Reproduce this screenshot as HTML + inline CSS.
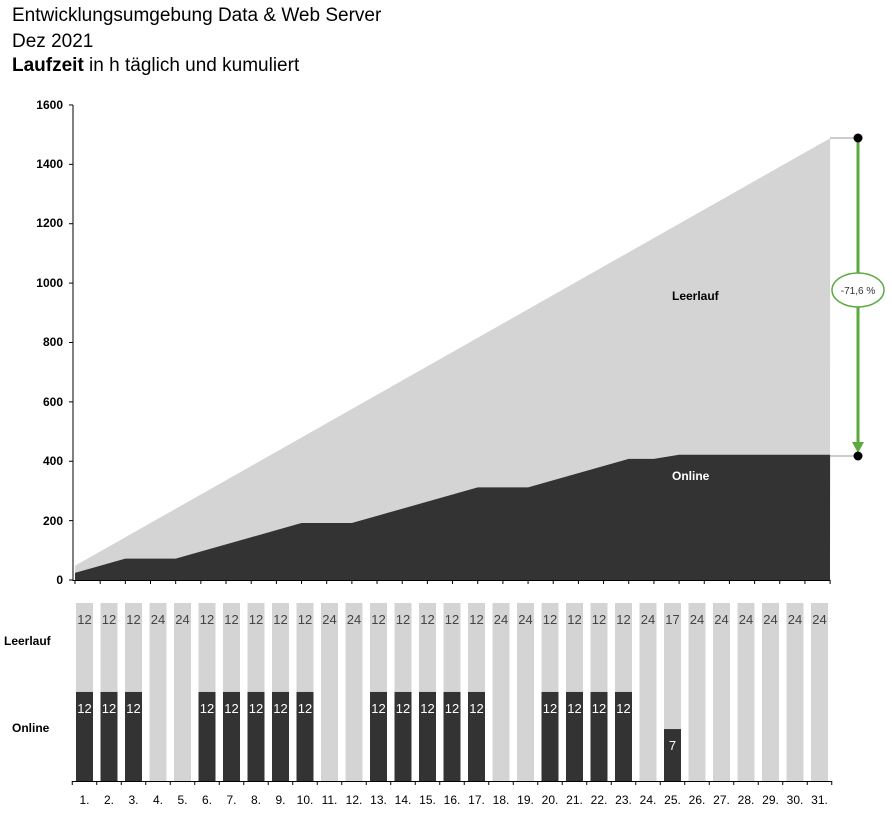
<!DOCTYPE html>
<html><head><meta charset="utf-8"><style>
body{margin:0;background:#fff;width:892px;height:814px;overflow:hidden;font-family:"Liberation Sans",Arial,sans-serif}
.t{position:absolute;left:12px;font-size:19px;color:#000;line-height:22px}
</style></head><body>
<div class="t" style="top:5px">Entwicklungsumgebung Data &amp; Web Server</div>
<div class="t" style="top:31px">Dez 2021</div>
<div class="t" style="top:55px"><b>Laufzeit</b> in h täglich und kumuliert</div>
<svg id="s" width="892" height="814" style="position:absolute;left:0;top:0" font-family="Liberation Sans,Arial,sans-serif">
<g id="g"></g>
<g font-size="12" font-weight="bold" text-anchor="end" fill="#000">
<text x="63" y="584">0</text><text x="63" y="525">200</text><text x="63" y="465">400</text><text x="63" y="406">600</text><text x="63" y="346">800</text><text x="63" y="287">1000</text><text x="63" y="227">1200</text><text x="63" y="168">1400</text><text x="63" y="109">1600</text>
</g>
<g font-size="12" font-weight="bold" fill="#000">
<text x="672" y="300" fill="#000">Leerlauf</text>
<text x="672" y="480" fill="#fff">Online</text>
<text x="4" y="645">Leerlauf</text>
<text x="12" y="732">Online</text>
</g>
<g id="labs"></g>
<g font-size="12" text-anchor="middle" fill="#000">
<text x="84.5" y="804">1.</text><text x="109" y="804">2.</text><text x="133.5" y="804">3.</text><text x="158" y="804">4.</text><text x="182.5" y="804">5.</text><text x="207" y="804">6.</text><text x="231.5" y="804">7.</text><text x="256" y="804">8.</text><text x="280.5" y="804">9.</text><text x="305" y="804">10.</text><text x="329.5" y="804">11.</text><text x="354" y="804">12.</text><text x="378.5" y="804">13.</text><text x="403" y="804">14.</text><text x="427.5" y="804">15.</text><text x="452" y="804">16.</text><text x="476.5" y="804">17.</text><text x="501" y="804">18.</text><text x="525.5" y="804">19.</text><text x="550" y="804">20.</text><text x="574.5" y="804">21.</text><text x="599" y="804">22.</text><text x="623.5" y="804">23.</text><text x="648" y="804">24.</text><text x="672.5" y="804">25.</text><text x="697" y="804">26.</text><text x="721.5" y="804">27.</text><text x="746" y="804">28.</text><text x="770.5" y="804">29.</text><text x="795" y="804">30.</text><text x="819.5" y="804">31.</text>
</g>
<g font-size="13" text-anchor="middle" fill="#444">
<text x="84.5" y="624">12</text><text x="109" y="624">12</text><text x="133.5" y="624">12</text><text x="158" y="624">24</text><text x="182.5" y="624">24</text><text x="207" y="624">12</text><text x="231.5" y="624">12</text><text x="256" y="624">12</text><text x="280.5" y="624">12</text><text x="305" y="624">12</text><text x="329.5" y="624">24</text><text x="354" y="624">24</text><text x="378.5" y="624">12</text><text x="403" y="624">12</text><text x="427.5" y="624">12</text><text x="452" y="624">12</text><text x="476.5" y="624">12</text><text x="501" y="624">24</text><text x="525.5" y="624">24</text><text x="550" y="624">12</text><text x="574.5" y="624">12</text><text x="599" y="624">12</text><text x="623.5" y="624">12</text><text x="648" y="624">24</text><text x="672.5" y="624">17</text><text x="697" y="624">24</text><text x="721.5" y="624">24</text><text x="746" y="624">24</text><text x="770.5" y="624">24</text><text x="795" y="624">24</text><text x="819.5" y="624">24</text>
</g>
<g font-size="13" text-anchor="middle" fill="#fff">
<text x="84.5" y="713">12</text><text x="109" y="713">12</text><text x="133.5" y="713">12</text><text x="207" y="713">12</text><text x="231.5" y="713">12</text><text x="256" y="713">12</text><text x="280.5" y="713">12</text><text x="305" y="713">12</text><text x="378.5" y="713">12</text><text x="403" y="713">12</text><text x="427.5" y="713">12</text><text x="452" y="713">12</text><text x="476.5" y="713">12</text><text x="550" y="713">12</text><text x="574.5" y="713">12</text><text x="599" y="713">12</text><text x="623.5" y="713">12</text><text x="672.5" y="750">7</text>
</g>
<ellipse cx="858" cy="290" rx="26" ry="17" fill="#fff" stroke="#5aaa3e" stroke-width="1.5"/>
<text x="858" y="294" font-size="10" text-anchor="middle" fill="#333">-71,6 %</text>
</svg>
<script>
var on=[12,12,12,0,0,12,12,12,12,12,0,0,12,12,12,12,12,0,0,12,12,12,12,0,7,0,0,0,0,0,0];
var g=document.getElementById('g'),h='';
var Y=function(v){return 580-v*0.2969;};
var X=function(i){return 75+i*25.17;};
var tot='M75,580',onl='M75,580',co=0;
for(var i=0;i<31;i++){co+=on[i]*2;tot+=' L'+X(i)+','+Y(48*(i+1));onl+=' L'+X(i)+','+Y(co);}
h+='<path d="'+tot+' L830,580Z" fill="#d4d4d4"/>';
h+='<path d="'+onl+' L830,580Z" fill="#333"/>';
h+='<line x1="73" y1="105" x2="73" y2="581" stroke="#000"/><line x1="73" y1="580.5" x2="830" y2="580.5" stroke="#000"/>';
for(var k=0;k<=8;k++){var yy=Y(200*k);h+='<line x1="69" y1="'+yy+'" x2="73" y2="'+yy+'" stroke="#000"/>';}
for(var i=0;i<=31;i++){var xx=X(i)-12.6;if(i<31)h+='<line x1="'+(75+i*25.17)+'" y1="580" x2="'+(75+i*25.17)+'" y2="584" stroke="#000"/>';}
h+='<line x1="830" y1="138" x2="858" y2="138" stroke="#999"/><line x1="830" y1="456" x2="858" y2="456" stroke="#999"/>';
h+='<line x1="858" y1="140" x2="858" y2="443" stroke="#5aaa3e" stroke-width="3"/><path d="M852,442 L864,442 L858,453Z" fill="#5aaa3e"/>';
h+='<circle cx="858" cy="138" r="4.5" fill="#000"/><circle cx="858" cy="456" r="4.5" fill="#000"/>';
for(var i=0;i<31;i++){var cx=84.5+i*24.5;
h+='<rect x="'+(cx-8.5)+'" y="603" width="17" height="178" fill="#d4d4d4"/>';
if(on[i])h+='<rect x="'+(cx-8.5)+'" y="'+(781-on[i]*7.42)+'" width="17" height="'+(on[i]*7.42)+'" fill="#333"/>';
h+='<line x1="'+(cx-12.25)+'" y1="781" x2="'+(cx-12.25)+'" y2="785" stroke="#000"/>';}
h+='<line x1="72" y1="781.5" x2="832" y2="781.5" stroke="#000"/><line x1="831.75" y1="781" x2="831.75" y2="785" stroke="#000"/>';
g.innerHTML=h;
</script>
</body></html>
